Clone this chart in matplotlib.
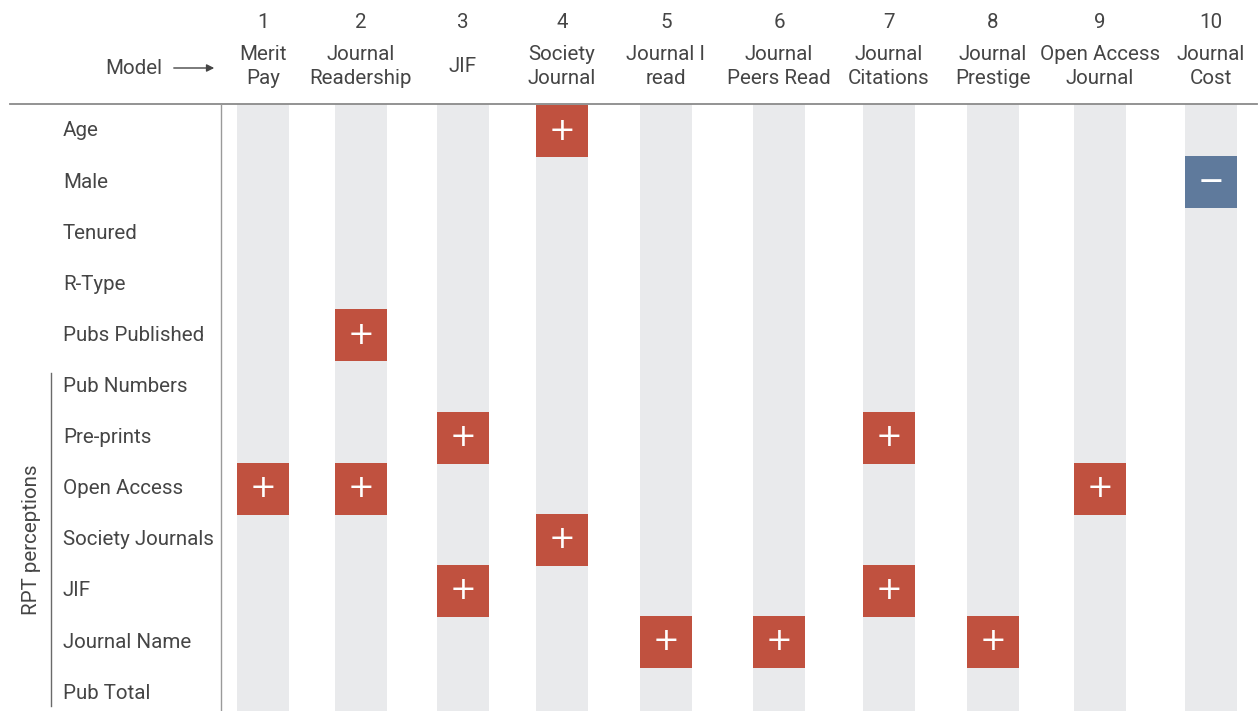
import matplotlib
matplotlib.use("Agg")
import matplotlib.pyplot as plt
from matplotlib.patches import Rectangle

# ---- data ----
model_numbers = ["1", "2", "3", "4", "5", "6", "7", "8", "9", "10"]
model_names = ["Merit\nPay", "Journal\nReadership", "JIF", "Society\nJournal",
               "Journal I\nread", "Journal\nPeers Read", "Journal\nCitations",
               "Journal\nPrestige", "Open Access\nJournal", "Journal\nCost"]
row_labels = ["Age", "Male", "Tenured", "R-Type", "Pubs Published",
              "Pub Numbers", "Pre-prints", "Open Access", "Society Journals",
              "JIF", "Journal Name", "Pub Total"]
# sign of significant effect per row (one string per row, one char per model)
# '+' positive, '-' negative, '.' none
effects = [
    "...+......",  # Age
    ".........-",  # Male
    "..........",  # Tenured
    "..........",  # R-Type
    ".+........",  # Pubs Published
    "..........",  # Pub Numbers
    "..+...+...",  # Pre-prints
    "++......+.",  # Open Access
    "...+......",  # Society Journals
    "..+...+...",  # JIF
    "....++.+..",  # Journal Name
    "..........",  # Pub Total
]
group_label = "RPT perceptions"
group_start = 5  # first row of group

# ---- layout (pixel coordinates) ----
W, H = 1259, 711
col_x = [263, 361, 463, 562, 666, 779, 889, 993, 1100, 1211]
row_y0, row_dy = 131, 51.1
cell = 52
header_y = 104

red = "#C0513F"
blue = "#5F7A9C"
grey = "#E9EAEC"
txt = "#454545"
font = "Roboto"
fs = 14.8

fig = plt.figure(figsize=(W / 100, H / 100), dpi=100)
ax = fig.add_axes([0, 0, 1, 1])
ax.set_xlim(0, W)
ax.set_ylim(H, 0)
ax.axis("off")

# grey column bands
for cx in col_x:
    ax.add_patch(Rectangle((cx - cell / 2, header_y), cell, H - header_y,
                           facecolor=grey, edgecolor="none", zorder=1))

# cells
for i, row in enumerate(effects):
    cy = row_y0 + i * row_dy
    for j, s in enumerate(row):
        if s == ".":
            continue
        color = red if s == "+" else blue
        ax.add_patch(Rectangle((col_x[j] - cell / 2, cy - cell / 2), cell, cell,
                               facecolor=color, edgecolor="none", zorder=2))
        sym = "+" if s == "+" else "\u2212"
        ax.text(col_x[j], cy, sym, color="white", ha="center", va="center",
                fontsize=23, family="DejaVu Sans", zorder=3)

# header
for j, (num, name) in enumerate(zip(model_numbers, model_names)):
    ax.text(col_x[j], 22, num, ha="center", va="center", fontsize=fs,
            color=txt, family=font)
    ax.text(col_x[j], 66.5, name, ha="center", va="center", fontsize=fs,
            color=txt, family=font, linespacing=1.38)

ax.text(162, 68, "Model", ha="right", va="center", fontsize=fs,
        color=txt, family=font)
ax.annotate("", xy=(217, 68), xytext=(171, 68),
            arrowprops=dict(arrowstyle="-|>", color=txt, lw=1.0,
                            mutation_scale=11))

# row labels
for i, lab in enumerate(row_labels):
    cy = row_y0 + i * row_dy
    ax.text(63, cy, lab, ha="left", va="center", fontsize=fs, color=txt,
            family=font)

# lines
ax.plot([10, 1257], [header_y, header_y], color="#8a8a8a", lw=1.3, zorder=4)
ax.plot([221, 221], [header_y, H], color="#9a9a9a", lw=1.0, zorder=4)
g0 = row_y0 + group_start * row_dy - 14
g1 = row_y0 + (len(row_labels) - 1) * row_dy + 13
ax.plot([51, 51], [g0, g1], color="#6a6a6a", lw=1.0)
ax.text(32, (g0 + g1) / 2, group_label, rotation=90, ha="center", va="center",
        fontsize=fs, color=txt, family=font)

fig.savefig("out.png", dpi=100)
